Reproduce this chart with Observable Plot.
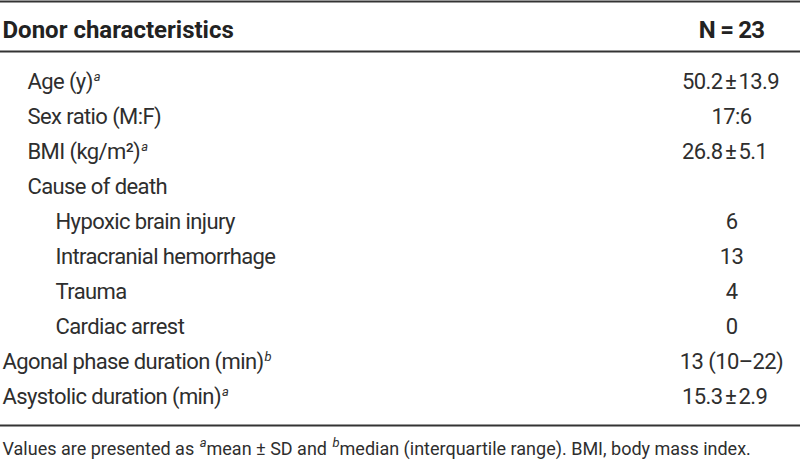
<!DOCTYPE html>
<html>
<head>
<meta charset="utf-8">
<script src="https://cdn.jsdelivr.net/npm/d3@7"></script>
<script src="https://cdn.jsdelivr.net/npm/@observablehq/plot@0.6"></script>
<style>
  html, body { margin: 0; padding: 0; background: #fff; }
  #chart svg { display: block; }
</style>
</head>
<body>
<div id="chart"></div>
<script>
// ---- Table content ----
const headerLabel = "Donor characteristics";
const headerValue = "N = 23";
const labels = [
  "Age (y)", "Sex ratio (M:F)", "BMI (kg/m²)", "Cause of death",
  "Hypoxic brain injury", "Intracranial hemorrhage", "Trauma", "Cardiac arrest",
  "Agonal phase duration (min)", "Asystolic duration (min)"
];
const levels = [1, 1, 1, 1, 2, 2, 2, 2, 0, 0];
const notes  = ["a", "", "a", "", "", "", "", "", "b", "a"];
const values = [
  "50.2 ± 13.9", "17:6", "26.8 ± 5.1", "",
  "6", "13", "4", "0", "13 (10–22)", "15.3 ± 2.9"
];
const footnote = "Values are presented as ^{a}mean ± SD and ^{b}median (interquartile range). BMI, body mass index.";

// ---- Layout (pixel space of the 800×463 SVG) ----
const W = 800, H = 463;
const firstBaseline = 88, rowStep = 35;
const toRow = px => (px - firstBaseline) / rowStep;
const indent = [2, 27, 55];
const valueX = 730;
const fontFamily = "Roboto, 'Liberation Sans', sans-serif";
const ink = "#2e2e2e";
const bodySize = 22, headSize = 24, noteSize = 18;

const rows = labels.map((label, i) => {
  const v = values[i];
  const pm = v.includes("±") ? v.split(" ± ") : null;
  return {
    row: i,
    label: notes[i] ? `${label}^{${notes[i]}}` : label,
    level: levels[i],
    value: v,
    pmLeft: pm ? pm[0] : null,
    pmRight: pm ? pm[1] : null
  };
});
const plainRows = rows.filter(d => d.value && !d.pmLeft);
const pmRows = rows.filter(d => d.pmLeft);

const rules = [toRow(1), toRow(51), toRow(425)];

const chart = Plot.plot({
  width: W,
  height: H,
  margin: 0,
  x: {type: "linear", domain: [0, W], range: [0, W], axis: null},
  y: {type: "linear", domain: [toRow(0), toRow(H)], range: [0, H], axis: null},
  style: {fontFamily, color: ink, background: "#fff"},
  marks: [
    Plot.ruleY(rules, {stroke: "#333", strokeWidth: 2}),
    // header
    Plot.text([headerLabel], {x: () => indent[0], y: () => toRow(37), text: d => d,
      textAnchor: "start", lineAnchor: "bottom", fontSize: headSize, fontWeight: "bold", fill: "#222"}),
    Plot.text([headerValue], {x: () => valueX + 1, y: () => toRow(37), text: d => d,
      textAnchor: "middle", lineAnchor: "bottom", fontSize: headSize - 0.01, fontWeight: "bold", fill: "#222"}),
    // row labels
    Plot.text(rows, {x: d => indent[d.level], y: "row", text: "label",
      textAnchor: "start", lineAnchor: "bottom", fontSize: bodySize, fill: ink}),
    // plain values
    Plot.text(plainRows, {x: () => valueX + 1, y: "row", text: "value",
      textAnchor: "middle", lineAnchor: "bottom", fontSize: bodySize, fill: ink}),
    // mean ± sd values aligned on ±
    Plot.text(pmRows, {x: () => valueX - 8, y: "row", text: "pmLeft",
      textAnchor: "end", lineAnchor: "bottom", fontSize: bodySize, fill: ink}),
    Plot.text(pmRows, {x: () => valueX, y: "row", text: () => "±",
      textAnchor: "middle", lineAnchor: "bottom", fontSize: bodySize, fill: ink}),
    Plot.text(pmRows, {x: () => valueX + 8, y: "row", text: "pmRight",
      textAnchor: "start", lineAnchor: "bottom", fontSize: bodySize, fill: ink}),
    // footnote
    Plot.text([footnote], {x: () => indent[0], y: () => toRow(454), text: d => d,
      textAnchor: "start", lineAnchor: "bottom", fontSize: noteSize, fill: ink})
  ]
});

// letter spacing: the reference face is a condensed grotesque
d3.select(chart).selectAll("g[aria-label='text']").each(function () {
  const fs = +this.getAttribute("font-size");
  if (fs === bodySize) this.setAttribute("letter-spacing", "-0.6");
  else if (fs === headSize - 0.01) this.setAttribute("letter-spacing", "-0.8");
});

// superscripts: replace ^{x} markers with raised italic tspans
d3.select(chart).selectAll("text").each(function () {
  const s = this.textContent;
  if (!s.includes("^{")) return;
  const parts = s.split(/\^\{(\w+)\}/);
  const big = parseFloat(getComputedStyle(this).fontSize) || bodySize;
  const shift = Math.round(big * 0.36);
  this.textContent = "";
  let raised = false;
  parts.forEach((p, i) => {
    if (!p) return;
    const t = document.createElementNS("http://www.w3.org/2000/svg", "tspan");
    t.textContent = p;
    if (i % 2 === 1) {
      t.setAttribute("font-style", "italic");
      t.setAttribute("font-size", Math.round(big * 0.6));
      t.setAttribute("dy", -shift);
      t.setAttribute("dx", 1);
      raised = true;
    } else if (raised) {
      t.setAttribute("dy", shift);
      raised = false;
    }
    this.appendChild(t);
  });
});

document.getElementById("chart").appendChild(chart);
</script>
</body>
</html>
